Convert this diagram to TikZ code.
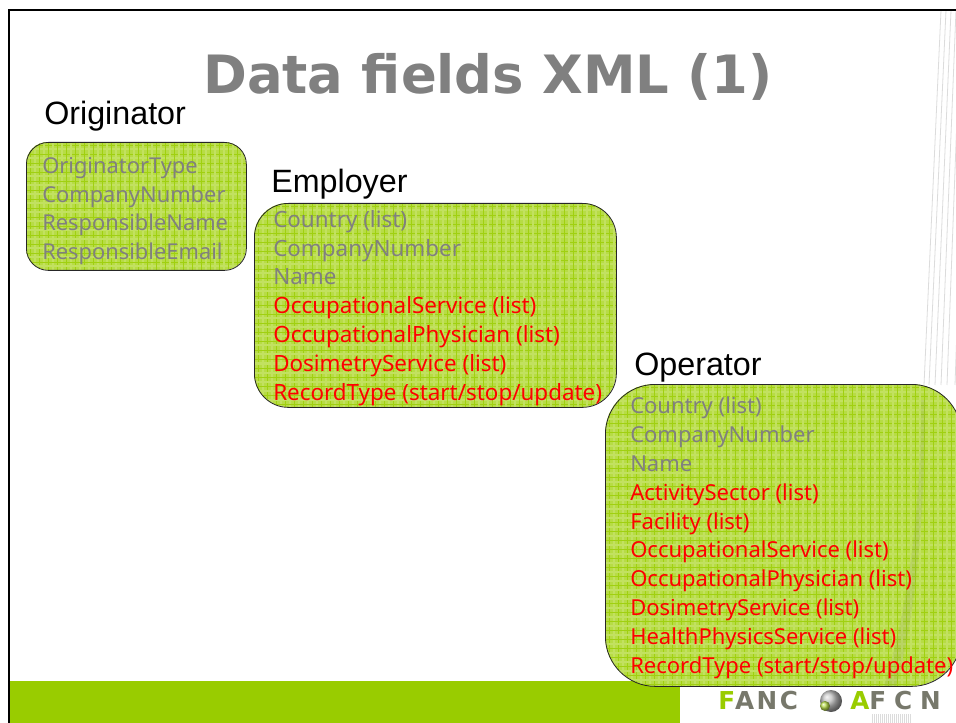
\documentclass[tikz,border=0pt]{standalone}
\usepackage{fontspec}
\setmainfont{Noto Sans}
\newfontfamily\titlefont{DejaVu Sans}
\newfontfamily\headfont{Liberation Sans}
\newfontfamily\logofontA[LetterSpace=10]{DejaVu Sans}
\newfontfamily\logofontB[LetterSpace=32]{DejaVu Sans}
\definecolor{barg}{HTML}{99CC00}
\definecolor{boxg}{HTML}{B7DC45}
\definecolor{lightg}{HTML}{C2E160}
\definecolor{gridg}{HTML}{A0D010}
\definecolor{txtgray}{HTML}{808080}
\definecolor{titlegray}{HTML}{808080}
\definecolor{logogray}{HTML}{77786B}
\definecolor{fanline}{HTML}{DCDCDC}
\tikzset{
  x=0.75pt,y=-0.75pt,
  greenbox/.style={draw=black!85,line width=0.6pt,inner sep=0pt,anchor=north west},
  heading/.style={font=\headfont\fontsize{24.2}{27}\selectfont,text=black,anchor=base west,inner sep=0pt},
  fields/.style={font=\fontsize{16.8}{21.6}\selectfont,align=left,anchor=north west,inner sep=0pt,text=txtgray},
  fan/.style={draw=fanline,line width=0.6pt},
  gridline/.style={draw=gridg,line width=0.6pt},
  softline/.style={draw=lightg,line width=1.5pt},
}
\newcommand{\rd}[1]{\textcolor{red}{#1}}
% textured interior of a rounded box: x, y, w, h, radius (pixels)
\newcommand{\texturedbox}[5]{%
  \begin{scope}
    \clip[rounded corners=#5*0.75pt] (#1,#2) rectangle ++(#3,#4);
    \fill[boxg] (#1,#2) rectangle ++(#3,#4);
    \foreach \i in {0,...,45}{
      \draw[softline] ({#1+\i*9+8.5},#2) -- ++(0,#4);
      \draw[softline] (#1,{#2+\i*9+7.5}) -- ++(#3,0);
      \draw[gridline] ({#1+\i*9+4},#2) -- ++(0,#4);
      \draw[gridline] (#1,{#2+\i*9+3}) -- ++(#3,0);
    }
  \end{scope}}
\begin{document}
\begin{tikzpicture}
\useasboundingbox (0,0) rectangle (956,723);
\fill[white] (0,0) rectangle (956,723);
% fan of thin lines
\foreach \a/\b in {941/924,946/929,951/935,956/941,961/947,968/955}{
  \draw[fan] (\a,10) -- (\b,385);
}
% frame
\fill[barg] (8,681) rectangle (680,723);
\draw[black,line width=1.9pt] (9,723) -- (9,10) -- (956,10);
% title
\node[font=\titlefont\bfseries\fontsize{39.6}{46}\selectfont,text=titlegray,anchor=base,inner sep=0pt] (title) at (488,94) {Data fields XML (1)};
% boxes
\texturedbox{26}{142}{220}{128}{22}
\texturedbox{254}{203}{362}{204}{34}
\texturedbox{605}{384}{356}{302}{50}
% translucent fan running behind the operator box
\fill[gray,opacity=0.13] (921,400) -- (925,400) .. controls (925,520) and (915,620) .. (896,686) -- (884,686) .. controls (905,620) and (921,520) .. (921,400) -- cycle;
\node[greenbox,minimum width=165pt,minimum height=96pt,rounded corners=16.5pt] (origbox) at (26,142) {};
\node[greenbox,minimum width=271.5pt,minimum height=153pt,rounded corners=25.5pt] (emplbox) at (254,203) {};
\node[greenbox,minimum width=267pt,minimum height=226.5pt,rounded corners=37.5pt] (operbox) at (605,384) {};
% headings
\node[heading] (orighead) at (44,125) {Originator};
\node[heading] (emplhead) at (271,193) {Employer};
\node[heading] (operhead) at (634,375) {Operator};
% fields
\node[fields,font=\fontsize{16.4}{21.6}\selectfont] (origtext) at (42,157) {OriginatorType\\CompanyNumber\\ResponsibleName\\ResponsibleEmail};
\node[fields] (empltext) at (273,210) {Country (list)\\CompanyNumber\\Name\\\rd{OccupationalService (list)}\\\rd{OccupationalPhysician (list)}\\\rd{DosimetryService (list)}\\\rd{RecordType (start/stop/update)}};
\node[fields,font=\fontsize{16.5}{21.6}\selectfont] (opertext) at (630,397) {Country (list)\\CompanyNumber\\Name\\\rd{ActivitySector (list)}\\\rd{Facility (list)}\\\rd{OccupationalService (list)}\\\rd{OccupationalPhysician (list)}\\\rd{DosimetryService (list)}\\\rd{HealthPhysicsService (list)}\\\rd{RecordType (start/stop/update)}};
% logo
\node[font=\logofontA\bfseries\fontsize{18.5}{22}\selectfont,anchor=base west,inner sep=0pt] (logoa) at (718,709) {\textcolor{barg}{F}\textcolor{logogray}{ANC}};
\node[font=\logofontB\bfseries\fontsize{18.5}{22}\selectfont,anchor=base west,inner sep=0pt] (logob) at (850,709) {\textcolor{barg}{A}\textcolor{logogray}{FCN}};
\shade[ball color=gray!50] (831,701) circle (11);
\shade[ball color=barg!70] (825,706) circle (5);
\foreach \h in {872,874,...,910}{\draw[fanline,line width=0.5pt] (\h,714) -- (\h,723);}
\end{tikzpicture}
\end{document}
